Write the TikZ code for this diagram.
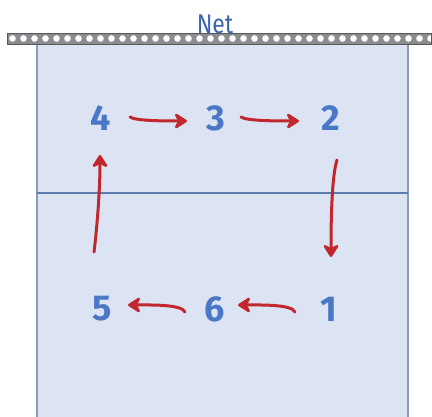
\documentclass[tikz,border=0pt]{standalone}
\usepackage{fontspec}
\setmainfont{Fira Sans}
\usetikzlibrary{arrows.meta,calc}
\definecolor{courtfill}{HTML}{DCE4F3}
\definecolor{courtline}{HTML}{8D9BB8}
\definecolor{numblue}{HTML}{4A78C6}
\definecolor{netblue}{HTML}{3D66AE}
\definecolor{arrred}{HTML}{C1272D}
\definecolor{midline}{HTML}{5C7BB0}
\definecolor{netgray}{HTML}{8A8C90}
\begin{document}
\begin{tikzpicture}[x=1pt,y=-1pt,
  num/.style={text=numblue,font=\fontsize{36}{36}\selectfont\bfseries,inner sep=2pt},
  rot/.style={draw=arrred,line width=3pt,line cap=round,-{Stealth[length=15pt,width=19pt,inset=5pt,round]}}]
\useasboundingbox (0,0) rectangle (432,417);
\fill[white] (0,0) rectangle (432,417);
% court
\fill[courtfill] (37,43) rectangle (408,417);
\draw[courtline,line width=1.5pt] (37,417) -- (37,43) -- (408,43) -- (408,417);
\draw[midline,line width=1.2pt] (37,193) -- (408,193);
% net
\fill[netgray] (7,33) rectangle (431,44);
\foreach \i in {0,...,38} {
  \fill[white] (12.5+\i*11,38.5) circle (3.3pt);
}
\draw[gray!70!black,line width=0.6pt] (7,33) rectangle (431,44);
\node[text=netblue,font=\fontsize{27}{27}\selectfont,xscale=0.85,inner sep=0pt,anchor=base] (nettext) at (215,34) {Net};
% positions
\node[num] (n4) at (101,118) {4};
\node[num] (n3) at (216,118) {3};
\node[num] (n2) at (331,118) {2};
\node[num] (n5) at (102,309) {5};
\node[num] (n6) at (215,309) {6};
\node[num] (n1) at (329,309) {1};
% rotation arrows
\draw[rot] ($(n4)+(29,-1)$) .. controls +(5,4) and +(-20,0) .. ($(n3)+(-29,3)$);
\draw[rot] ($(n3)+(25,-1)$) .. controls +(5,4) and +(-20,0) .. ($(n2)+(-32,3)$);
\draw[rot] ($(n2)+(6,42)$) .. controls +(-5,15) and +(0,-40) .. ($(n1)+(2,-52)$);
\draw[rot] ($(n1)+(-34,3)$) .. controls +(-3,-8) and +(20,0) .. ($(n6)+(23,-4)$);
\draw[rot] ($(n6)+(-30,3)$) .. controls +(-3,-8) and +(20,0) .. ($(n5)+(26,-4)$);
\draw[rot] ($(n5)+(-8,-57)$) .. controls +(2,-15) and +(0,40) .. ($(n4)+(-1,37)$);
\end{tikzpicture}
\end{document}
